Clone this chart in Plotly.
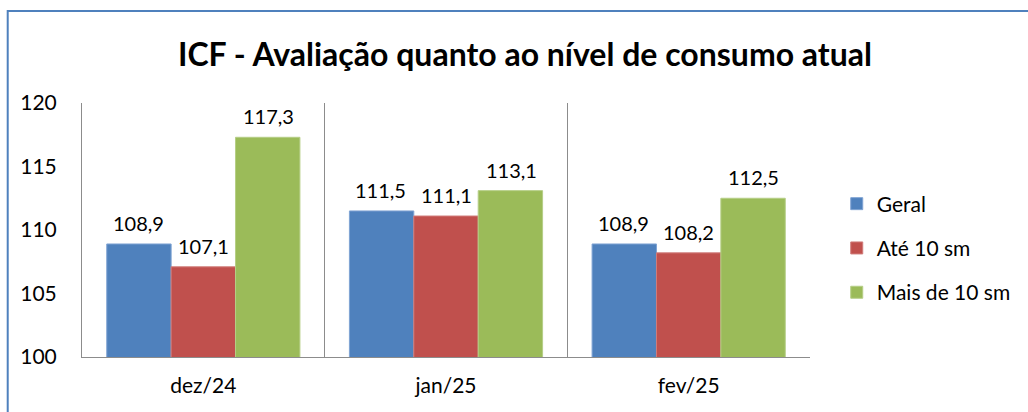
import plotly.graph_objects as go

categories = ["dez/24", "jan/25", "fev/25"]
geral = [108.9, 111.5, 108.9]
ate_10 = [107.1, 111.1, 108.2]
mais_10 = [117.3, 113.1, 112.5]
series_names = ["Geral", "Até 10 sm", "Mais de 10 sm"]
colors = ["#4F81BD", "#C0504D", "#9BBB59"]
line_colors = ["#7FA3D3", "#D07C7A", "#B5CE86"]
y_ticks = [100, 105, 110, 115, 120]

FONT = "Lato"
FS = 21
W, H = 1028, 412
L, R, T, B = 82, 1028 - 817, 103, 412 - 357
pw, ph = W - L - R, H - T - B
BARGAP = 0.204
bar_px = pw / len(categories) * (1 - BARGAP) / len(series_names)

fig = go.Figure()
annotations = []
all_series = [geral, ate_10, mais_10]
for i, (name, vals) in enumerate(zip(series_names, all_series)):
    fig.add_trace(go.Bar(
        x=categories, y=vals, name=name,
        marker=dict(color=colors[i], line=dict(color=line_colors[i], width=1)),
        legendgroup=name,
    ))
    for c, v in zip(categories, vals):
        annotations.append(dict(
            x=c, y=v, xref="x", yref="y",
            text=f"{v:.1f}".replace(".", ","), showarrow=False,
            xanchor="center", yanchor="bottom",
            xshift=(i - 1) * bar_px, yshift=7,
            font=dict(family=FONT, size=20, color="#000000"),
        ))

def px_x(x):
    return (x - L) / pw

def px_y(y):
    return (H - B - y) / ph

fig.update_layout(
    width=W, height=H,
    margin=dict(l=L, r=R, t=T, b=B),
    paper_bgcolor="white", plot_bgcolor="white",
    separators=",.",
    barmode="group", bargap=BARGAP, bargroupgap=0,
    title=dict(text="<b>ICF - Avaliação quanto ao nível de consumo atual</b>",
               x=525 / W, xref="container", xanchor="center", y=1 - 55 / H, yanchor="middle",
               font=dict(family=FONT, size=32, color="#000000")),
    font=dict(family=FONT, size=FS, color="#000000"),
    showlegend=True,
    legend=dict(x=px_x(844), y=px_y(248), xanchor="left", yanchor="middle",
                font=dict(family=FONT, size=FS, color="#000000"),
                traceorder="grouped", tracegroupgap=14,
                bgcolor="rgba(0,0,0,0)"),
    annotations=annotations,
    shapes=[dict(type="rect", xref="paper", yref="paper",
                 x0=px_x(7), x1=px_x(1040), y0=px_y(420), y1=px_y(11),
                 line=dict(color="#4F81BD", width=2), fillcolor="rgba(0,0,0,0)",
                 layer="above")],
)
fig.update_xaxes(
    type="category", tickson="boundaries", showgrid=True, gridcolor="#8C8C8C", gridwidth=1,
    showline=True, linecolor="#8C8C8C", linewidth=1, mirror=False,
    ticks="", ticklabelstandoff=10,
    tickfont=dict(family=FONT, size=FS, color="#000000"),
)
fig.update_yaxes(
    range=[100, 120], tickvals=y_ticks, showgrid=False, zeroline=False,
    showline=True, linecolor="#8C8C8C", linewidth=1,
    ticks="", ticklabelstandoff=20,
    tickfont=dict(family=FONT, size=FS, color="#000000"),
)
fig.write_html("out.html", config={"displayModeBar": False},
               post_script="document.body.style.margin='0';")
